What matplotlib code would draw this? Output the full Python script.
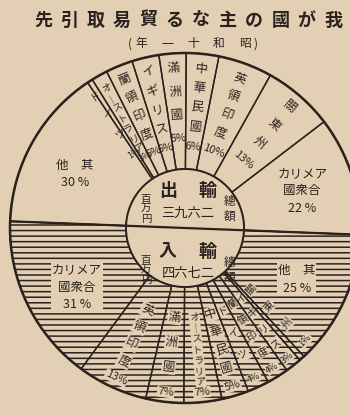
import numpy as np
import matplotlib.pyplot as plt

plt.rcParams['font.family'] = ['Noto Sans CJK JP', 'DejaVu Sans']

title = "先引取易貿るな主の國が我"
subtitle = "年一十和昭"

# exports (upper half), counter-clockwise from the right
export_names = ["カリメア\n國衆合", "關東州", "英領印度", "中華民國", "滿洲國",
                "イギリス", "蘭領印度", "オーストラリア", "ドイツ", "他　其"]
export_pct = [22, 13, 10, 6, 5, 5, 5, 3, 1, 30]

# imports (lower half), counter-clockwise from the left
import_names = ["カリメア\n國衆合", "英領印度", "滿洲國", "オーストラリア", "中華民國",
                "ドイツ", "蘭領印度", "イギリス", "關東州", "他　其"]
import_pct = [31, 13, 7, 7, 5, 4, 4, 3, 1, 25]

export_total = "三九六二"
import_total = "四六七二"

BG = "#e3cfb3"
INK = "#2a221e"
plt.rcParams['hatch.color'] = INK
plt.rcParams['hatch.linewidth'] = 1.1

W, H = 350, 416
cx, cy = 185, H - 228
R_OUT, R_IN = 175, 59
TILT = -2.2

fig = plt.figure(figsize=(3.5, 4.16), dpi=100, facecolor=BG)
ax = fig.add_axes([0, 0, 1, 1])


def half_pie(values, start, hatch):
    frac = np.array(values) / 200
    common = dict(normalize=False, startangle=start, counterclock=True,
                  center=(cx, cy), radius=R_OUT)
    if hatch:
        ax.pie(frac, wedgeprops=dict(width=R_OUT - R_IN, facecolor='none',
                                     edgecolor=INK, linewidth=0, hatch=hatch),
               **common)
    wedges, _ = ax.pie(frac, wedgeprops=dict(width=R_OUT - R_IN, facecolor='none',
                                             edgecolor=INK, linewidth=1.0),
                       **common)
    for w in wedges:
        w.set_zorder(4)
    return wedges


def polar(theta, r):
    t = np.radians(theta)
    return cx + r * np.cos(t), cy + r * np.sin(t)


def label_half(wedges, names, pcts, upper):
    bbox = dict(boxstyle='square,pad=0.06', fc=BG, ec='none')
    last = len(names) - 1
    for i, (w, name, p) in enumerate(zip(wedges, names, pcts)):
        span = w.theta2 - w.theta1
        mid = (w.theta1 + w.theta2) / 2
        if i == 0 or i == last:
            # big sectors: horizontal text, nudged a little downwards
            nudge = 3 if (i == last) == upper else 0
            if not upper and i == last:
                nudge = 0
            x, y = polar(mid + nudge, 123)
            ax.text(x, y, f"{name}\n{p} %", ha='center', va='center', fontsize=9,
                    linespacing=1.45, color=INK, zorder=3, bbox=bbox)
            continue
        if span < 3:
            mid += 1 if upper else 5
        chars = list(name.replace("ー", "｜"))
        size = 9 if span > 8 else 7.5
        if len(chars) > 5:
            size = 7
        if upper:
            rs = np.linspace(160, 82 if len(chars) > 3 else 90, len(chars) + 1)
            rot = mid - 90
        else:
            rs = np.linspace(90, 165, len(chars) + 1)
            rot = mid - 270
        pfs = 8 if span > 8 else 6.5
        items = [(c, size) for c in chars] + [(f"{p}%", pfs)]
        for (ch, fs), r in zip(items, rs):
            x, y = polar(mid, r)
            ax.text(x, y, ch, rotation=rot, rotation_mode='anchor', ha='center',
                    va='center', fontsize=fs, color=INK, zorder=3,
                    bbox=None if upper else bbox)


top = half_pie(export_pct, TILT, None)
bottom = half_pie(import_pct, 180 + TILT, '---')
label_half(top, export_names, export_pct, True)
label_half(bottom, import_names, import_pct, False)

# outer / inner circles and the dividing diameter
ax.add_patch(plt.Circle((cx, cy), R_OUT, fill=False, ec=INK, lw=1.8, zorder=5))
ax.add_patch(plt.Circle((cx, cy), R_IN, fc=BG, ec=INK, lw=1.4, zorder=4.5))
x0, y0 = polar(180 + TILT, R_OUT)
x1, y1 = polar(TILT, R_OUT)
ax.plot([x0, x1], [y0, y1], color=INK, lw=1.6, zorder=6)

# centre texts
for word, yy, total in [("出", H - 190, export_total), ("入", H - 251, import_total)]:
    ax.text(cx - 17, yy, word, ha='center', va='center', fontsize=13,
            fontweight='bold', color=INK, zorder=7)
    ax.text(cx + 22, yy, "輸", ha='center', va='center', fontsize=13,
            fontweight='bold', color=INK, zorder=7)
    ax.text(cx + 3, yy - 23, total, ha='center', va='center', fontsize=9.5,
            color=INK, zorder=7)
    ax.text(cx - 39, yy - 19, "百\n万\n円", ha='center', va='center', fontsize=7.5,
            linespacing=1.0, color=INK, zorder=7)
    ax.text(cx + 45, yy - 19, "總\n額", ha='center', va='center', fontsize=8.5,
            linespacing=1.15, color=INK, zorder=7)

# title
for ch, x in zip(title, np.linspace(43, 333, len(title))):
    ax.text(x, H - 20, ch, ha='center', va='center', fontsize=13,
            fontweight='bold', color=INK)
for ch, x in zip(subtitle, np.linspace(141, 245, len(subtitle))):
    ax.text(x, H - 44, ch, ha='center', va='center', fontsize=8.5, color=INK)
ax.text(130, H - 44, "(", ha='center', va='center', fontsize=8.5, color=INK)
ax.text(256, H - 44, ")", ha='center', va='center', fontsize=8.5, color=INK)

ax.set_xlim(0, W)
ax.set_ylim(0, H)
ax.set_aspect('equal')
ax.axis('off')

fig.savefig("out.png", dpi=100, facecolor=BG)
